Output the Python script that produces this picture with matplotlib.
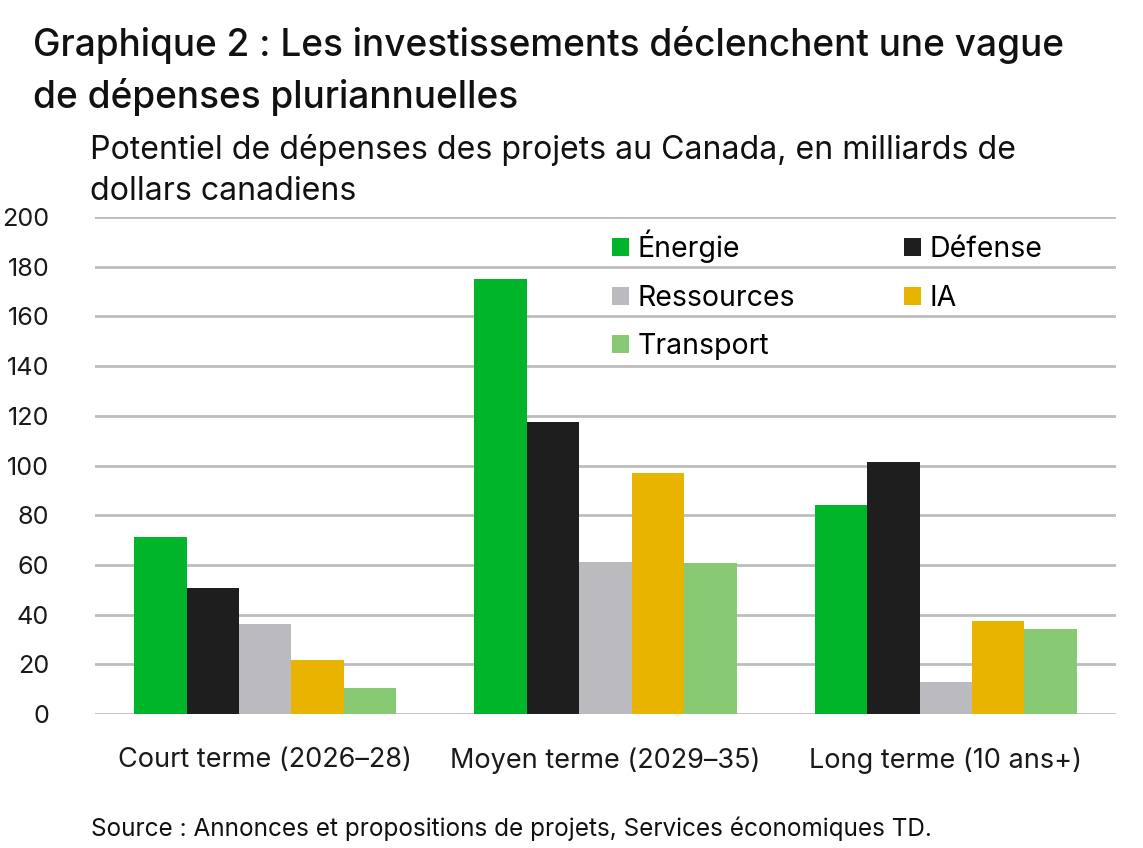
import matplotlib
matplotlib.use('Agg')
import matplotlib.pyplot as plt
import numpy as np

plt.rcParams['font.family'] = ['Inter', 'DejaVu Sans']

# Data (milliards de $ CA)
periods = ['Court terme (2026–28)', 'Moyen terme (2029–35)', 'Long terme (10 ans+)']
sectors = ['Énergie', 'Défense', 'Ressources', 'IA', 'Transport']
energie = [71.2, 175.0, 84.1]
defense = [50.7, 117.5, 101.4]
ressources = [36.2, 61.2, 12.9]
ia = [21.7, 97.0, 37.4]
transport = [10.5, 60.8, 34.2]

colors = ['#00B52A', '#1E1E1E', '#BBBBBF', '#E8B400', '#88CA73']
series = [energie, defense, ressources, ia, transport]

fig = plt.figure(figsize=(11.43, 8.48), dpi=100)
ax = fig.add_axes([0.0831, 0.158, 0.8933, 0.586])

x = np.arange(len(periods))
width = 0.154
bars = []
for i, (vals, col) in enumerate(zip(series, colors)):
    b = ax.bar(x + (i - 2) * width, vals, width, color=col, label=sectors[i], zorder=3)
    bars.append(b)

ax.set_xlim(-0.5, 2.5)
ax.set_ylim(0, 200)
ax.set_yticks(range(0, 201, 20))
ax.set_xticks(x)
ax.set_xticklabels(periods)
ax.grid(axis='y', color='#BDBDBD', linewidth=2, zorder=0)
ax.set_axisbelow(True)
for s in ax.spines.values():
    s.set_visible(False)
ax.tick_params(axis='y', length=0, pad=33, labelsize=18.2, colors='#1a1a1a')
ax.tick_params(axis='x', length=0, pad=24, labelsize=19.5, colors='#1a1a1a')
for lab in ax.get_yticklabels():
    lab.set_horizontalalignment('right')

# legend ordered row-wise: Énergie, Défense / Ressources, IA / Transport
order = [0, 2, 4, 1, 3]
leg = ax.legend([bars[i] for i in order], [sectors[i] for i in order],
                ncol=2, loc='upper left', bbox_to_anchor=(0.506, 0.975),
                frameon=False, fontsize=20.5, handlelength=0.6, handleheight=0.6,
                handletextpad=0.3, columnspacing=3.85, labelspacing=0.76,
                borderpad=0, borderaxespad=0)

fig.text(0.029, 0.969, 'Graphique 2 : Les investissements déclenchent une vague\nde dépenses pluriannuelles',
         fontsize=26.6, fontweight='medium', va='top', ha='left', linespacing=1.45, color='#111111')
fig.text(0.079, 0.842, 'Potentiel de dépenses des projets au Canada, en milliards de\ndollars canadiens',
         fontsize=23.1, va='top', ha='left', linespacing=1.41, color='#111111')
fig.text(0.080, 0.008, 'Source : Annonces et propositions de projets, Services économiques TD.',
         fontsize=17.5, va='bottom', ha='left', color='#111111')

fig.savefig('out.png', dpi=100)
